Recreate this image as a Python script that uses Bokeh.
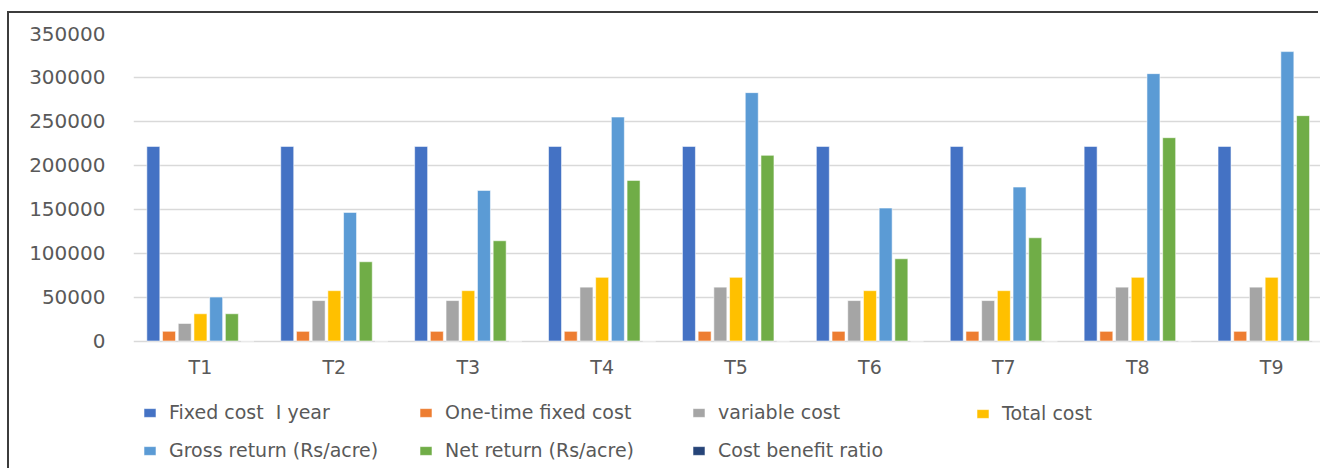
from bokeh.plotting import figure
from bokeh.models import (ColumnDataSource, Range1d, FixedTicker, BasicTickFormatter,
                          Legend, LegendItem)
from bokeh.transform import dodge
from bokeh.embed import file_html
from bokeh.resources import INLINE

# ---- data ----
treatments = ["T1", "T2", "T3", "T4", "T5", "T6", "T7", "T8", "T9"]
fixed_cost_1yr = [221500, 221500, 221500, 221500, 221500, 221500, 221500, 221500, 221500]
one_time_fixed = [11000, 11000, 11000, 11000, 11000, 11000, 11000, 11000, 11000]
variable_cost = [20000, 46000, 46000, 61300, 61300, 46000, 46000, 61300, 61300]
total_cost = [31000, 57300, 57300, 72500, 72500, 57300, 57300, 72500, 72500]
gross_return = [50000, 146400, 171400, 254900, 282700, 151300, 175200, 304300, 329400]
net_return = [31000, 90200, 114100, 182800, 211300, 93600, 117500, 231400, 256500]
cost_benefit = [1.6, 2.5, 3.0, 3.5, 3.9, 2.6, 3.1, 4.2, 4.5]

series_names = ["Fixed cost  I year", "One-time fixed cost", "variable cost", "Total cost",
                "Gross return (Rs/acre)", "Net return (Rs/acre)", "Cost benefit ratio"]
series_values = [fixed_cost_1yr, one_time_fixed, variable_cost, total_cost,
                 gross_return, net_return, cost_benefit]
colors = ["#4472C4", "#ED7D31", "#A5A5A5", "#FFC000", "#5B9BD5", "#70AD47", "#264478"]

y_ticks = [0, 50000, 100000, 150000, 200000, 250000, 300000, 350000]
y_max = 350000

# ---- layout (page pixels) ----
OFF_X, OFF_Y = 9, 13
W, H = 1324 - OFF_X - 4, 470 - OFF_Y
LEFT_BORDER = 124
PX_PER_CAT = 133.9
FRAME_TOP, ZERO_PX, FRAME_BOTTOM = 33, 340.5, 470
y_min = -y_max * (FRAME_BOTTOM - ZERO_PX) / (ZERO_PX - FRAME_TOP)
x_end = 0.5 + (W - LEFT_BORDER) / PX_PER_CAT
FONT = "DejaVu Sans"
TXT = "#595959"

positions = list(range(1, len(treatments) + 1))
data = {"x": positions}
for i, vals in enumerate(series_values):
    data[f"s{i}"] = vals
source = ColumnDataSource(data)

p = figure(width=W, height=H, output_backend="svg", toolbar_location=None,
           x_range=Range1d(0.5, x_end), y_range=Range1d(y_min, y_max),
           min_border_left=LEFT_BORDER, min_border_right=0, min_border_top=FRAME_TOP - OFF_Y,
           min_border_bottom=0)
p.margin = (OFF_Y, 0, 0, OFF_X)
p.styles = {"box-shadow": "-2px -2px 0 0 #3c3c3c"}

p.outline_line_color = None
p.background_fill_color = "white"
p.border_fill_color = "white"

step = 0.1173
renderers = []
for i, name in enumerate(series_names):
    r = p.vbar(x=dodge("x", (i - 3) * step, range=p.x_range), top=f"s{i}", width=0.097,
               source=source, fill_color=colors[i], line_color="white", line_alpha=0.55,
               line_width=1)
    renderers.append(r)

# axes
p.xaxis.fixed_location = 0
p.xaxis.ticker = FixedTicker(ticks=positions)
p.xaxis.major_label_overrides = {pos: t for pos, t in zip(positions, treatments)}
p.xaxis.axis_line_color = None
p.xaxis.major_tick_line_color = None
p.xaxis.minor_tick_line_color = None
p.xaxis.major_label_text_font = FONT
p.xaxis.major_label_text_font_size = "19px"
p.xaxis.major_label_text_color = TXT
p.xaxis.major_label_standoff = 9

p.yaxis.ticker = FixedTicker(ticks=y_ticks)
p.yaxis.formatter = BasicTickFormatter(use_scientific=False)
p.yaxis.axis_line_color = None
p.yaxis.major_tick_line_color = None
p.yaxis.minor_tick_line_color = None
p.yaxis.major_label_text_font = FONT
p.yaxis.major_label_text_font_size = "20px"
p.yaxis.major_label_text_color = TXT
p.yaxis.major_label_standoff = 22

p.xgrid.grid_line_color = None
p.ygrid.grid_line_color = "#D9D9D9"
p.ygrid.grid_line_width = 1.5

# legends: four columns, placed under the axis labels
columns = [[0, 4], [1, 5], [2, 6], [3]]
col_x = [9, 285, 558, 842]
lh, sp = 21, 16
LEG_TOP = 403
for cols, cx in zip(columns, col_x):
    items = [LegendItem(label=series_names[k], renderers=[renderers[k]]) for k in cols]
    n = len(cols)
    height = n * lh + (n - 1) * sp
    vy = FRAME_BOTTOM - (LEG_TOP + height)
    leg = Legend(items=items, location=(cx, vy), orientation="vertical",
                 padding=0, margin=0, spacing=sp, label_height=lh,
                 glyph_width=15, glyph_height=11, label_standoff=12,
                 label_text_font=FONT, label_text_font_size="19px",
                 label_text_color=TXT, background_fill_alpha=0,
                 border_line_color=None)
    p.add_layout(leg)

open("out.html", "w").write(file_html(p, INLINE))
